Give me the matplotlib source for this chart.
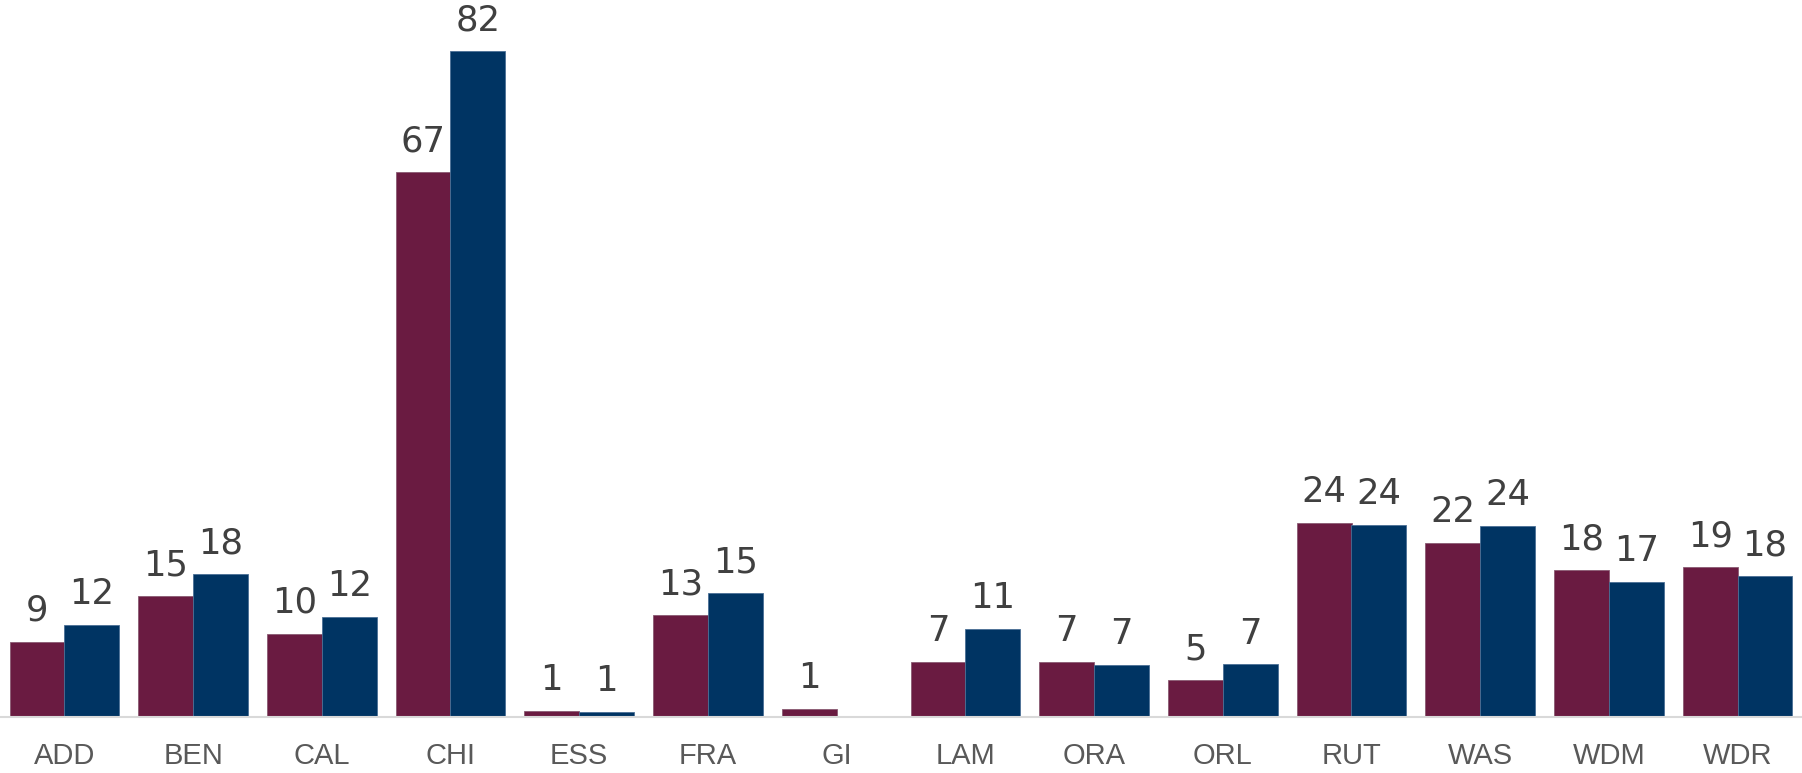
import numpy as np
import matplotlib
matplotlib.use("Agg")
import matplotlib.pyplot as plt

categories = ["ADD", "BEN", "CAL", "CHI", "ESS", "FRA", "GI", "LAM",
              "ORA", "ORL", "RUT", "WAS", "WDM", "WDR"]
# bar heights
series_a = [9.3, 14.9, 10.3, 67.1, 0.8, 12.6, 1.0, 6.8, 6.8, 4.6, 23.9, 21.5, 18.1, 18.5]
series_b = [11.4, 17.6, 12.3, 82.0, 0.7, 15.3, np.nan, 10.9, 6.4, 6.5, 23.7, 23.6, 16.7, 17.4]
# data labels as printed
labels_a = ["9", "15", "10", "67", "1", "13", "1", "7", "7", "5", "24", "22", "18", "19"]
labels_b = ["12", "18", "12", "82", "1", "15", "", "11", "7", "7", "24", "24", "17", "18"]

maroon = "#6a1b41"
navy = "#003463"

plt.rcParams['font.family'] = ['Liberation Sans', 'DejaVu Sans']

fig = plt.figure(figsize=(18.02, 7.73), dpi=100)
ax = fig.add_axes([0, 55.7 / 773, 1, 717.3 / 773])

x = np.arange(len(categories))
w = 0.426
bars_a = ax.bar(x - w / 2, series_a, w, color=maroon, edgecolor="#8a5a72", linewidth=0.6)
bars_b = ax.bar(x + w / 2, series_b, w, color=navy, edgecolor="#4a6f95", linewidth=0.6)

for bars, vals, labs in ((bars_a, series_a, labels_a), (bars_b, series_b, labels_b)):
    for b, v, t in zip(bars, vals, labs):
        if np.isnan(v) or not t:
            continue
        ax.annotate(t, (b.get_x() + b.get_width() / 2, v),
                    xytext=(0, 10), textcoords="offset points",
                    ha="center", va="bottom", fontsize=25.5, color="#404040",
                    family="DejaVu Sans")

ax.set_xlim(-0.5, 13.5)
ax.set_ylim(0, 88.3)
ax.set_xticks(x)
ax.set_xticklabels(categories, fontsize=21, color="#595959")
ax.tick_params(axis="x", length=0, pad=18)
ax.set_yticks([])
for s in ("top", "right", "left"):
    ax.spines[s].set_visible(False)
ax.spines["bottom"].set_color("#d9d9d9")
ax.spines["bottom"].set_linewidth(1.5)

fig.savefig("out.png", dpi=100)
